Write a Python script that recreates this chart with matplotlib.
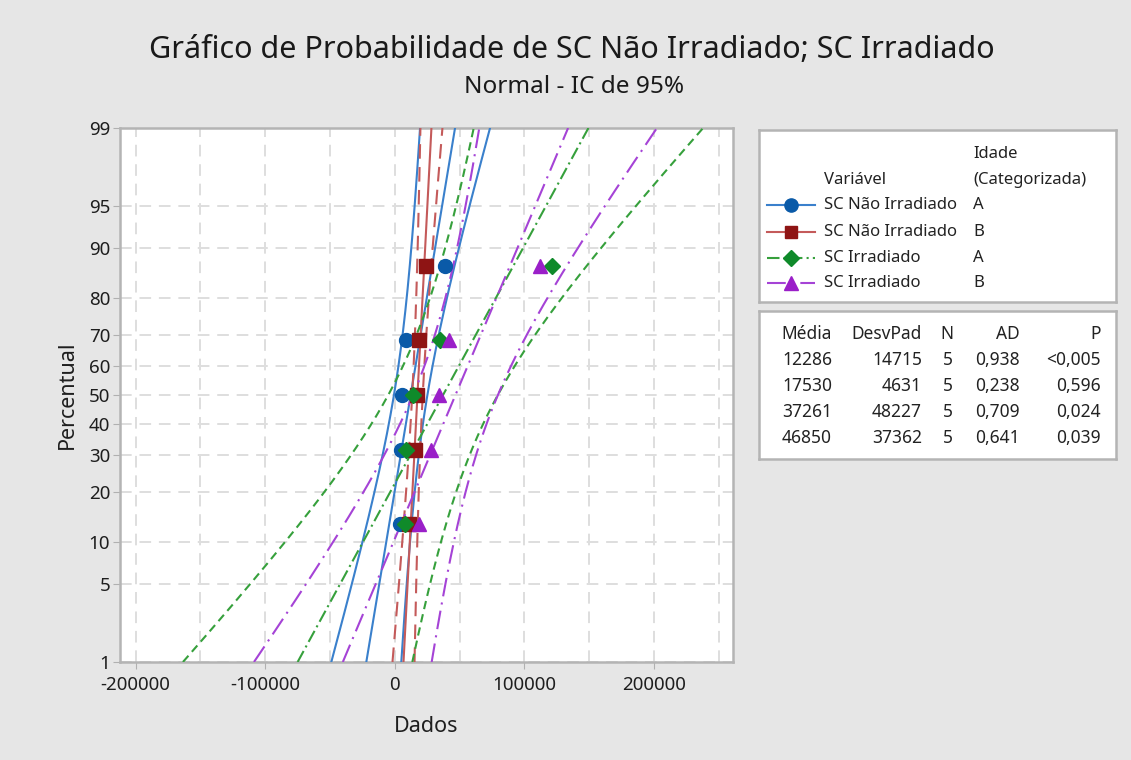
import numpy as np
import matplotlib
matplotlib.use("Agg")
import matplotlib.pyplot as plt
from matplotlib.lines import Line2D
from statistics import NormalDist

plt.rcParams['font.family'] = ['Noto Sans', 'DejaVu Sans']

# data
series_names = ["SC Não Irradiado", "SC Não Irradiado", "SC Irradiado", "SC Irradiado"]
age_groups = ["A", "B", "A", "B"]
values_nao_a = [3800, 4600, 5800, 8800, 38400]
values_nao_b = [11300, 15800, 17500, 19000, 24050]
values_irr_a = [7600, 8600, 14000, 35000, 121100]
values_irr_b = [18700, 28100, 33800, 41650, 112000]
all_values = [values_nao_a, values_nao_b, values_irr_a, values_irr_b]

# stats table
media = [12286, 17530, 37261, 46850]
desvpad = [14715, 4631, 48227, 37362]
n_obs = [5, 5, 5, 5]
ad_stat = ["0,938", "0,238", "0,709", "0,641"]
p_vals = ["<0,005", "0,596", "0,024", "0,039"]

prob_ticks = [1, 5, 10, 20, 30, 40, 50, 60, 70, 80, 90, 95, 99]
x_ticks = [-200000, -100000, 0, 100000, 200000]

# styles
marker_colors = ["#0a5aa8", "#8e1414", "#0f8a2a", "#9a1fc8"]
line_colors = ["#3a80cc", "#c45a5a", "#36a03c", "#a543d6"]
markers = ["o", "s", "D", "^"]
fit_styles = ["-", "-", (0, (6, 2, 1, 2)), (0, (9, 3, 1, 3))]
band_styles = ["-", (0, (7, 4)), (0, (4, 2.5)), (0, (9, 3, 1, 3))]
marker_sizes = [10, 9.5, 8.5, 10]

nd = NormalDist()
zf = nd.inv_cdf

fig = plt.figure(figsize=(11.31, 7.6), dpi=100)
fig.patch.set_facecolor("#e6e6e6")
W, H = 1131, 760

ax = fig.add_axes([120 / W, 1 - 662 / H, (733 - 120) / W, (662 - 128) / H])
ax.set_facecolor("white")

zmin, zmax = zf(0.01), zf(0.99)
zgrid = np.linspace(zmin, zmax, 200)

for i, vals in enumerate(all_values):
    n = n_obs[i]
    mu, sd = media[i], desvpad[i]
    fit = mu + sd * zgrid
    half = 1.96 * sd * np.sqrt(1 / n + zgrid ** 2 / (2 * (n - 1)))
    ax.plot(fit, zgrid, color=line_colors[i], lw=1.5, ls=fit_styles[i], zorder=3)
    ax.plot(fit - half, zgrid, color=line_colors[i], lw=1.5, ls=band_styles[i], zorder=3)
    ax.plot(fit + half, zgrid, color=line_colors[i], lw=1.5, ls=band_styles[i], zorder=3)
    # median rank plotting positions
    pos = [(k + 1 - 0.3) / (n + 0.4) for k in range(n)]
    zpos = [zf(p) for p in pos]
    ax.plot(sorted(vals), zpos, ls="none", marker=markers[i], ms=marker_sizes[i],
            color=marker_colors[i], mec=marker_colors[i], zorder=5)

ax.set_xlim(-212000, 261000)
ax.set_ylim(zmin, zmax)
ax.set_xticks(x_ticks)
ax.set_xticklabels([str(t) for t in x_ticks])
ax.set_xticks(np.arange(-150000, 260000, 100000), minor=True)
ax.set_yticks([zf(p / 100) for p in prob_ticks])
ax.set_yticklabels([str(p) for p in prob_ticks])
ax.grid(True, which="both", color="#dedede", ls=(0, (6, 4)), lw=1.4, zorder=0)
ax.set_axisbelow(True)
ax.tick_params(axis="both", which="major", labelsize=13.5, length=5, color="#b0b0b0",
               labelcolor="#1e1e1e")
ax.tick_params(axis="x", which="major", pad=5)
ax.tick_params(axis="y", which="major", pad=2)
ax.tick_params(axis="x", which="minor", length=0)
for s in ax.spines.values():
    s.set_color("#b4b4b4")
    s.set_linewidth(1.8)
ax.set_xlabel("Dados", fontsize=15.5, labelpad=16, color="#1e1e1e")
ax.set_ylabel("Percentual", fontsize=15.5, labelpad=8, color="#1e1e1e")

fig.text(572 / W, 1 - 50 / H, "Gráfico de Probabilidade de SC Não Irradiado; SC Irradiado",
         ha="center", va="center", fontsize=22, color="#1a1a1a")
fig.text(574 / W, 1 - 87 / H, "Normal - IC de 95%", ha="center", va="center",
         fontsize=17.5, color="#1a1a1a")

# legend box drawn in pixel coordinates
lg = fig.add_axes([759 / W, 1 - 302 / H, (1116 - 759) / W, (302 - 130) / H])
lg.set_xlim(759, 1116)
lg.set_ylim(302, 130)
lg.set_xticks([])
lg.set_yticks([])
lg.set_facecolor("white")
for s in lg.spines.values():
    s.set_color("#b4b4b4")
    s.set_linewidth(1.8)
fs = 12
lg.text(973, 154, "Idade", fontsize=fs, va="center", ha="left", color="#222222")
lg.text(973, 180, "(Categorizada)", fontsize=fs, va="center", ha="left", color="#222222")
lg.text(824, 180, "Variável", fontsize=fs, va="center", ha="left", color="#222222")
rows_y = [205, 232, 258, 283]
for i in range(4):
    y = rows_y[i]
    lg.add_line(Line2D([767, 815], [y, y], color=line_colors[i], lw=1.5, ls=fit_styles[i]))
    lg.plot([791], [y], marker=markers[i], ms=marker_sizes[i] - 0.5,
            color=marker_colors[i], ls="none")
    lg.text(824, y, series_names[i], fontsize=fs, va="center", ha="left", color="#222222")
    lg.text(973, y, age_groups[i], fontsize=fs, va="center", ha="left", color="#222222")

# table box
tb = fig.add_axes([759 / W, 1 - 459 / H, (1116 - 759) / W, (459 - 311) / H])
tb.set_xlim(759, 1116)
tb.set_ylim(459, 311)
tb.set_xticks([])
tb.set_yticks([])
tb.set_facecolor("white")
for s in tb.spines.values():
    s.set_color("#b4b4b4")
    s.set_linewidth(1.8)
fs_t = 12.5
col_x = [832, 922, 953, 1020, 1101]
headers = ["Média", "DesvPad", "N", "AD", "P"]
for cx, h in zip(col_x, headers):
    tb.text(cx, 334, h, fontsize=fs_t, ha="right", va="center", color="#222222")
tab_y = [360, 386, 412, 438]
for i in range(4):
    cells = [str(media[i]), str(desvpad[i]), str(n_obs[i]), ad_stat[i], p_vals[i]]
    for cx, c in zip(col_x, cells):
        tb.text(cx, tab_y[i], c, fontsize=fs_t, ha="right", va="center", color="#222222")

fig.savefig("out.png", dpi=100, facecolor=fig.get_facecolor())
